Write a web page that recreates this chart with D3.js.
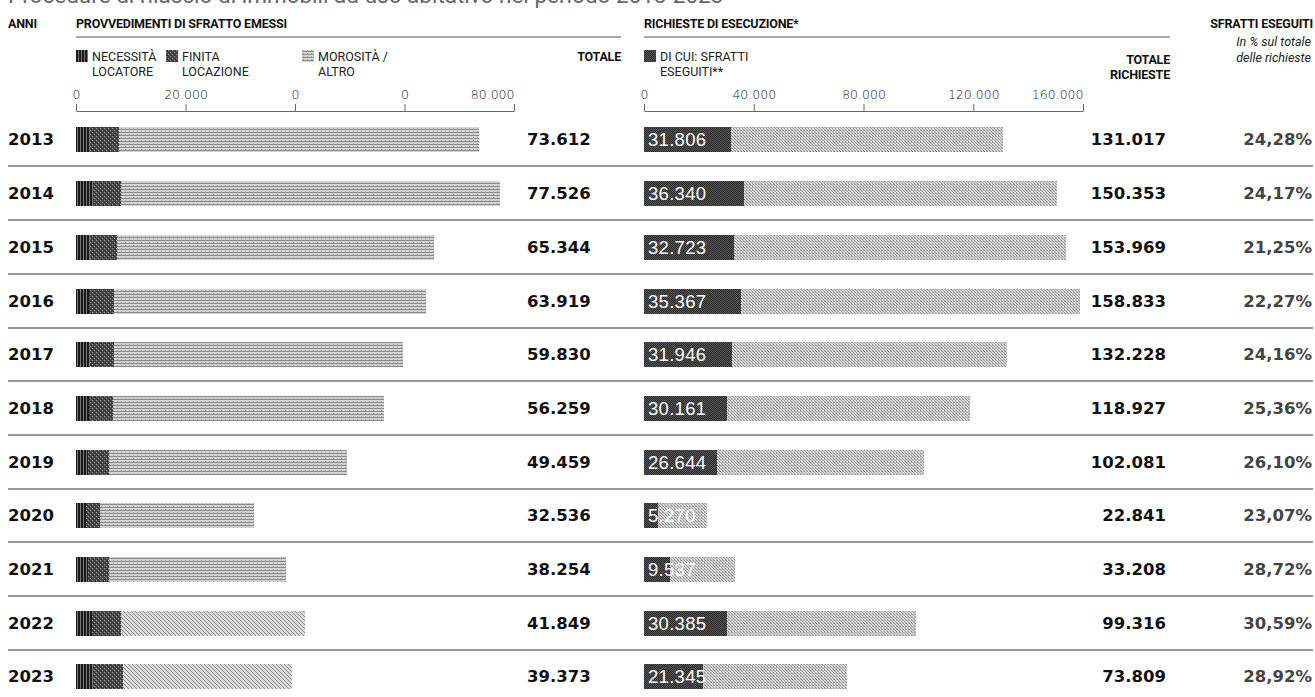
<!DOCTYPE html>
<html>
<head>
<meta charset="utf-8">
<script src="https://cdn.jsdelivr.net/npm/d3@7"></script>
<style>
  body { margin: 0; background: #fff; }
  svg { display: block; }
</style>
</head>
<body>
<div id="chart"></div>
<script>
const width = 1315;
const height = 697;

// dati
const years = [2013, 2014, 2015, 2016, 2017, 2018, 2019, 2020, 2021, 2022, 2023];
const necessita = [2600, 3100, 2600, 2400, 2500, 2300, 2200, 1900, 2200, 2900, 3100];
const finita = [5300, 5100, 4900, 4500, 4400, 4500, 3800, 2500, 3800, 5300, 5500];
const morosita = [65700, 69300, 57800, 57000, 52900, 49500, 43500, 28100, 32300, 33600, 30800];
const totali = [73612, 77526, 65344, 63919, 59830, 56259, 49459, 32536, 38254, 41849, 39373];
const eseguiti = [31806, 36340, 32723, 35367, 31946, 30161, 26644, 5270, 9537, 30385, 21345];
const richieste = [131017, 150353, 153969, 158833, 132228, 118927, 102081, 22841, 33208, 99316, 73809];
const percentuali = ["24,28%", "24,17%", "21,25%", "22,27%", "24,16%", "25,36%", "26,10%", "23,07%", "28,72%", "30,59%", "28,92%"];
const leftTicks = [0, 20000, 40000, 60000, 80000];
const leftTickLabels = ["0", "20.000", "0", "0", "80.000"];
const rightTicks = [0, 40000, 80000, 120000, 160000];

const rows = years.map((y, i) => ({
    year: y,
    nec: necessita[i],
    fin: finita[i],
    mor: morosita[i],
    tot: totali[i],
    ese: eseguiti[i],
    ric: richieste[i],
    pct: percentuali[i]
}));

const it = d3.formatLocale({ decimal: ",", thousands: ".", grouping: [3], currency: ["€", ""] });
const fmt = it.format(",d");

const xL = d3.scaleLinear().domain([0, 80000]).range([76, 514]);
const xR = d3.scaleLinear().domain([0, 160000]).range([644, 1083]);
const y = d3.scaleBand().domain(years).range([112.6, 112.6 + 53.7 * years.length]);
const barH = 25;
const mid = d => Math.round(y(d) + y.bandwidth() / 2);

const svg = d3.select("#chart").append("svg")
    .attr("width", width)
    .attr("height", height);

// pattern retinati
const defs = svg.append("defs");
const pat = (id, w, h, bg, marks) => {
    const p = defs.append("pattern").attr("id", id)
        .attr("patternUnits", "userSpaceOnUse")
        .attr("width", w).attr("height", h);
    p.append("rect").attr("width", w).attr("height", h).attr("fill", bg);
    marks.forEach(m => p.append("rect")
        .attr("x", m[0]).attr("y", m[1]).attr("width", m[2]).attr("height", m[3]).attr("fill", m[4]));
};
pat("pNec", 3, 3, "#1a1a1a", [[2, 0, 1, 3, "#777"]]);
pat("pFin", 4, 4, "#4a4a4a", [[0, 0, 1, 1, "#999"], [2, 2, 1, 1, "#999"], [1, 3, 1, 1, "#222"], [3, 1, 1, 1, "#222"]]);
pat("pMor", 4, 3, "#d4d4d4", [[0, 0, 4, 1, "#8a8a8a"], [1, 2, 1, 1, "#aaa"]]);
pat("pMor2", 4, 4, "#dcdcdc", [[0, 0, 1, 1, "#8a8a8a"], [1, 1, 1, 1, "#8a8a8a"], [2, 2, 1, 1, "#8a8a8a"], [3, 3, 1, 1, "#8a8a8a"]]);
pat("pEse", 2, 2, "#2a2a2a", [[0, 0, 1, 1, "#555"], [1, 1, 1, 1, "#555"]]);
pat("pRic", 3, 3, "#d6d6d6", [[0, 0, 1, 1, "#999"], [1, 1, 1, 1, "#aaa"], [2, 2, 1, 1, "#999"], [2, 0, 1, 1, "#b4b4b4"]]);

const sans = "Roboto, 'Liberation Sans', sans-serif";
const bold = "'DejaVu Sans', sans-serif";
const light = "'DejaVu Sans', sans-serif";

// sottotitolo tagliato in alto
svg.append("text")
    .attr("x", 8).attr("y", 3)
    .attr("font-family", sans).attr("font-size", 22.5)
    .attr("fill", "#666")
    .text("Procedure di rilascio di immobili ad uso abitativo nel periodo 2013-2023");

// intestazioni
const head = (x, yy, t, anchor) => svg.append("text")
    .attr("x", x).attr("y", yy)
    .attr("text-anchor", anchor || "start")
    .attr("font-family", sans).attr("font-weight", 700).attr("font-size", 12.5)
    .attr("letter-spacing", -0.2)
    .attr("fill", "#111")
    .text(t);

head(8, 28, "ANNI");
head(76, 28, "PROVVEDIMENTI DI SFRATTO EMESSI");
head(644, 28, "RICHIESTE DI ESECUZIONE*");
head(1313, 28, "SFRATTI ESEGUITI", "end");
head(621, 61, "TOTALE", "end");
head(1170, 64, "TOTALE", "end");
head(1170, 79, "RICHIESTE", "end");

svg.append("g").selectAll("line")
    .data([[76, 621], [644, 1170]])
    .join("line")
    .attr("x1", d => d[0]).attr("x2", d => d[1])
    .attr("y1", 37).attr("y2", 37)
    .attr("stroke", "#555").attr("stroke-width", 1.2);

svg.append("g").selectAll("text")
    .data(["In % sul totale", "delle richieste"])
    .join("text")
    .attr("x", 1311).attr("y", (d, i) => 46 + i * 16)
    .attr("text-anchor", "end")
    .attr("font-family", sans).attr("font-style", "italic").attr("font-size", 12.5)
    .attr("fill", "#222")
    .text(d => d);

// legenda
const legend = [
    { x: 76, fill: "url(#pNec)", lines: ["NECESSITÀ", "LOCATORE"] },
    { x: 166, fill: "url(#pFin)", lines: ["FINITA", "LOCAZIONE"] },
    { x: 302, fill: "url(#pMor)", lines: ["MOROSITÀ /", "ALTRO"] },
    { x: 644, fill: "url(#pEse)", lines: ["DI CUI: SFRATTI", "ESEGUITI**"] }
];
const lg = svg.append("g").selectAll("g").data(legend).join("g")
    .attr("transform", d => `translate(${d.x},0)`);
lg.append("rect").attr("y", 50).attr("width", 12).attr("height", 12).attr("fill", d => d.fill);
lg.selectAll("text").data(d => d.lines).join("text")
    .attr("x", 16).attr("y", (d, i) => 61 + i * 15)
    .attr("font-family", sans).attr("font-size", 12.5)
    .attr("fill", "#222")
    .text(d => d);

// assi
const axL = svg.append("g").attr("transform", "translate(0,111)")
    .call(d3.axisTop(xL).tickValues(leftTicks).tickFormat((d, i) => leftTickLabels[i])
        .tickSize(7).tickSizeOuter(0).tickPadding(5));
const axR = svg.append("g").attr("transform", "translate(0,111)")
    .call(d3.axisTop(xR).tickValues(rightTicks).tickFormat(d => d === 0 ? "0" : fmt(d))
        .tickSize(7).tickSizeOuter(0).tickPadding(5));
[axL, axR].forEach(ax => {
    ax.select(".domain").attr("stroke", "#666");
    ax.selectAll(".tick line").attr("stroke", "#666");
    ax.selectAll("text").attr("font-family", light).attr("font-weight", 300)
        .attr("font-size", 12.5).attr("fill", "#222");
    ax.select(".tick:last-of-type text").attr("text-anchor", "end");
});

// separatori
svg.append("g").selectAll("line")
    .data(years.slice(0, -1))
    .join("line")
    .attr("x1", 8).attr("x2", 1313)
    .attr("y1", d => mid(d) + 27).attr("y2", d => mid(d) + 27)
    .attr("stroke", "#777").attr("stroke-width", 1.5);

const row = svg.append("g").selectAll("g").data(rows).join("g")
    .attr("transform", d => `translate(0,${mid(d.year)})`);

row.append("text")
    .attr("x", 8).attr("y", 6)
    .attr("font-family", bold).attr("font-weight", 700).attr("font-size", 16.5)
    .attr("fill", "#111")
    .text(d => d.year);

// barre sinistre impilate
const stackL = d3.stack().keys(["nec", "fin", "mor"])(rows);
const fillL = { nec: "url(#pNec)", fin: "url(#pFin)", mor: "url(#pMor)" };
svg.append("g").selectAll("g").data(stackL).join("g")
    .selectAll("rect")
    .data(s => s.map(v => ({ key: s.key, v })))
    .join("rect")
    .attr("x", d => Math.round(xL(d.v[0])))
    .attr("width", d => Math.round(xL(d.v[1])) - Math.round(xL(d.v[0])))
    .attr("y", d => mid(d.v.data.year) - 12)
    .attr("height", barH)
    .attr("fill", d => d.key === "mor" && d.v.data.year >= 2022 ? "url(#pMor2)" : fillL[d.key]);

row.append("text")
    .attr("x", 527).attr("y", 6)
    .attr("font-family", bold).attr("font-weight", 700).attr("font-size", 16.5)
    .attr("fill", "#111")
    .text(d => fmt(d.tot));

// barre destre
row.append("rect")
    .attr("x", xR(0)).attr("y", -12)
    .attr("width", d => Math.round(xR(d.ric) - xR(0))).attr("height", barH)
    .attr("fill", "url(#pRic)");
row.append("rect")
    .attr("x", xR(0)).attr("y", -12)
    .attr("width", d => Math.round(xR(d.ese) - xR(0))).attr("height", barH)
    .attr("fill", "url(#pEse)");
row.append("text")
    .attr("x", xR(0) + 4).attr("y", 7)
    .attr("font-family", "'Liberation Sans', Arial, sans-serif").attr("font-size", 18.5)
    .attr("letter-spacing", 0.3)
    .attr("fill", "#fff")
    .text(d => fmt(d.ese));

row.append("text")
    .attr("x", 1166).attr("y", 6)
    .attr("text-anchor", "end")
    .attr("font-family", bold).attr("font-weight", 700).attr("font-size", 16.5)
    .attr("fill", "#111")
    .text(d => fmt(d.ric));

row.append("text")
    .attr("x", 1312).attr("y", 6)
    .attr("text-anchor", "end")
    .attr("font-family", bold).attr("font-weight", 700).attr("font-size", 16.5)
    .attr("fill", "#444")
    .text(d => d.pct);
</script>
</body>
</html>
